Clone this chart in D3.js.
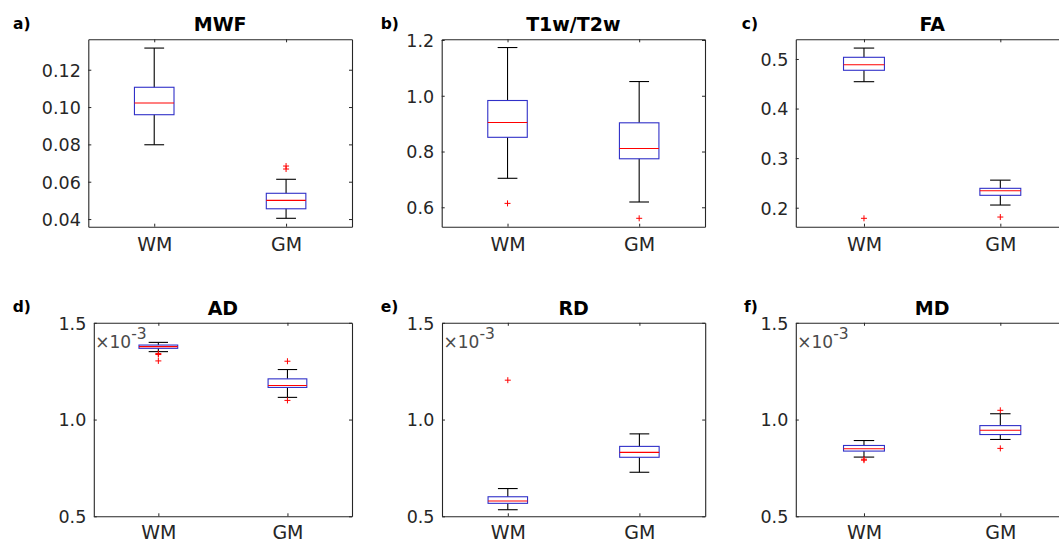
<!DOCTYPE html>
<html>
<head>
<meta charset="utf-8">
<script src="https://cdn.jsdelivr.net/npm/d3@7"></script>
<style>
  html, body { margin: 0; padding: 0; background: #fff; }
  svg { display: block; }
  text { font-family: "DejaVu Sans", "Liberation Sans", sans-serif; }
</style>
</head>
<body>
<svg id="chart" width="1059" height="542"></svg>
<script>
// ---------------- DATA ----------------
const categories = ["WM", "GM"];
const titles = ["MWF", "T1w/T2w", "FA", "AD", "RD", "MD"];
const panelLetters = ["a)", "b)", "c)", "d)", "e)", "f)"];

// box statistics per category: [lowerWhisker, Q1, median, Q3, upperWhisker]
const mwfStats = [[0.0798, 0.0959, 0.1022, 0.1106, 0.1316], [0.0404, 0.0455, 0.0500, 0.0538, 0.0613]];
const mwfOutliers = [[], [0.0668, 0.0684]];
const t1t2Stats = [[0.704, 0.851, 0.904, 0.983, 1.173], [0.619, 0.774, 0.811, 0.903, 1.051]];
const t1t2Outliers = [[0.614], [0.5605]];
const faStats = [[0.4542, 0.4772, 0.4885, 0.5034, 0.522], [0.2054, 0.225, 0.2343, 0.2391, 0.2556]];
const faOutliers = [[0.1786], [0.1812]];
// diffusivities in units of 1e-3
const adStats = [[1.351, 1.368, 1.3767, 1.385, 1.3988], [1.1146, 1.166, 1.176, 1.2103, 1.2585]];
const adOutliers = [[1.336, 1.341, 1.303], [1.3014, 1.099]];
const rdStats = [[0.534, 0.567, 0.5787, 0.601, 0.6434], [0.7276, 0.805, 0.8305, 0.8613, 0.926]];
const rdOutliers = [[1.2035], []];
const mdStats = [[0.806, 0.837, 0.849, 0.866, 0.8916], [0.897, 0.9225, 0.945, 0.9687, 1.030]];
const mdOutliers = [[0.790, 0.795], [1.0478, 0.851]];

// axis limits and tick values
const mwfDomain = [0.0359, 0.1363];
const mwfTicks = [0.04, 0.06, 0.08, 0.10, 0.12];
const t1t2Domain = [0.5304, 1.2025];
const t1t2Ticks = [0.6, 0.8, 1.0, 1.2];
const faDomain = [0.1617, 0.5397];
const faTicks = [0.2, 0.3, 0.4, 0.5];
const diffDomain = [0.5, 1.5];
const diffTicks = [0.5, 1.0, 1.5];
const tickFormats = [".2f", ".1f", ".1f", ".1f", ".1f", ".1f"];
const exponentLabel = "-3";

// ---------------- LAYOUT ----------------
const panels = [
  { stats: mwfStats, out: mwfOutliers, dom: mwfDomain, ticks: mwfTicks, box: [88.3, 39.3, 352, 226.7], exp: false },
  { stats: t1t2Stats, out: t1t2Outliers, dom: t1t2Domain, ticks: t1t2Ticks, box: [441.7, 39.3, 705, 226.7], exp: false },
  { stats: faStats, out: faOutliers, dom: faDomain, ticks: faTicks, box: [795.8, 39.3, 1068.5, 226.7], exp: false },
  { stats: adStats, out: adOutliers, dom: diffDomain, ticks: diffTicks, box: [93.8, 322.8, 352, 516.3], exp: true },
  { stats: rdStats, out: rdOutliers, dom: diffDomain, ticks: diffTicks, box: [442, 322.8, 705.2, 516.3], exp: true },
  { stats: mdStats, out: mdOutliers, dom: diffDomain, ticks: diffTicks, box: [795.8, 322.8, 1068.5, 516.3], exp: true }
];
const letterX = [13, 380.7, 741.7, 12.7, 380.7, 744];
const xLabelOffset = [24.5, 24.5, 24.5, 22.8, 22.8, 22.8];

const svg = d3.select("#chart");
const axisColor = "#262626";
const tickFont = 17.5;

panels.forEach((p, i) => {
  const [l, t, r, b] = p.box;
  const x = d3.scaleLinear().domain([0.5, 2.5]).range([l, r]);
  const y = d3.scaleLinear().domain(p.dom).range([b, t]);
  const g = svg.append("g");
  const fmt = d3.format(tickFormats[i]);

  // axes (inward ticks, boxed)
  const left = g.append("g").attr("transform", `translate(${l},0)`)
    .call(d3.axisLeft(y).tickValues(p.ticks).tickSizeInner(-3).tickSizeOuter(0).tickPadding(10).tickFormat(fmt));
  const right = g.append("g").attr("transform", `translate(${r},0)`)
    .call(d3.axisRight(y).tickValues(p.ticks).tickSizeInner(-3).tickSizeOuter(0).tickFormat(""));
  const bottom = g.append("g").attr("transform", `translate(0,${b})`)
    .call(d3.axisBottom(x).tickValues([1, 2]).tickSizeInner(-3).tickSizeOuter(0).tickPadding(27)
      .tickFormat((d) => categories[d - 1]));
  const top = g.append("g").attr("transform", `translate(0,${t})`)
    .call(d3.axisTop(x).tickValues([1, 2]).tickSizeInner(-3).tickSizeOuter(0).tickFormat(""));
  [left, right, bottom, top].forEach(a => {
    a.selectAll("path.domain").attr("stroke", axisColor).attr("stroke-width", 1.1);
    a.selectAll(".tick line").attr("stroke", axisColor).attr("stroke-width", 1);
    a.attr("font-family", null).attr("font-size", null);
  });
  left.selectAll(".tick text").attr("font-size", tickFont).attr("fill", axisColor)
    .attr("x", -7.5).attr("dy", null).attr("y", 6.4);
  bottom.selectAll(".tick text").attr("font-size", 19).attr("fill", axisColor)
    .attr("dy", null).attr("y", xLabelOffset[i]);

  // whiskers + boxes
  const halfBox = 0.15, halfCap = 0.075;
  p.stats.forEach((s, k) => {
    const cx = k + 1;
    const [lo, q1, med, q3, hi] = s;
    const seg = (x1, y1, x2, y2, c) => g.append("line").attr("x1", x1).attr("y1", y1).attr("x2", x2).attr("y2", y2)
      .attr("stroke", c).attr("stroke-width", 1.1);
    seg(x(cx), y(q3), x(cx), y(hi), "#000");
    seg(x(cx), y(q1), x(cx), y(lo), "#000");
    seg(x(cx - halfCap), y(hi), x(cx + halfCap), y(hi), "#000");
    seg(x(cx - halfCap), y(lo), x(cx + halfCap), y(lo), "#000");
    g.append("rect").attr("x", x(cx - halfBox)).attr("width", x(cx + halfBox) - x(cx - halfBox))
      .attr("y", y(q3)).attr("height", y(q1) - y(q3))
      .attr("fill", "none").attr("stroke", "#3030c8").attr("stroke-width", 1.1);
    seg(x(cx - halfBox), y(med), x(cx + halfBox), y(med), "#ff0000");
    p.out[k].forEach(v => {
      const px = x(cx), py = y(v), h = 3;
      g.append("path").attr("d", `M${px - h},${py}H${px + h}M${px},${py - h}V${py + h}`)
        .attr("stroke", "#ff0000").attr("stroke-width", 1).attr("fill", "none");
    });
  });

  // title
  g.append("text").attr("x", (l + r) / 2).attr("y", t - 8.3).attr("text-anchor", "middle")
    .attr("font-size", 19).attr("font-weight", "bold").attr("fill", "#000").text(titles[i]);
  // panel letter
  g.append("text").attr("x", letterX[i]).attr("y", t - 10.5)
    .attr("font-size", 15.5).attr("font-weight", "bold").attr("fill", "#000").text(panelLetters[i]);
  // exponent label
  if (p.exp) {
    const e = g.append("text").attr("x", l + 1.5).attr("y", 347.5).attr("font-size", 17).attr("fill", "#4a4a4a");
    e.append("tspan").text("\u00d710");
    e.append("tspan").attr("font-size", 15.5).attr("dy", -9).text(exponentLabel);
  }
});
</script>
</body>
</html>
